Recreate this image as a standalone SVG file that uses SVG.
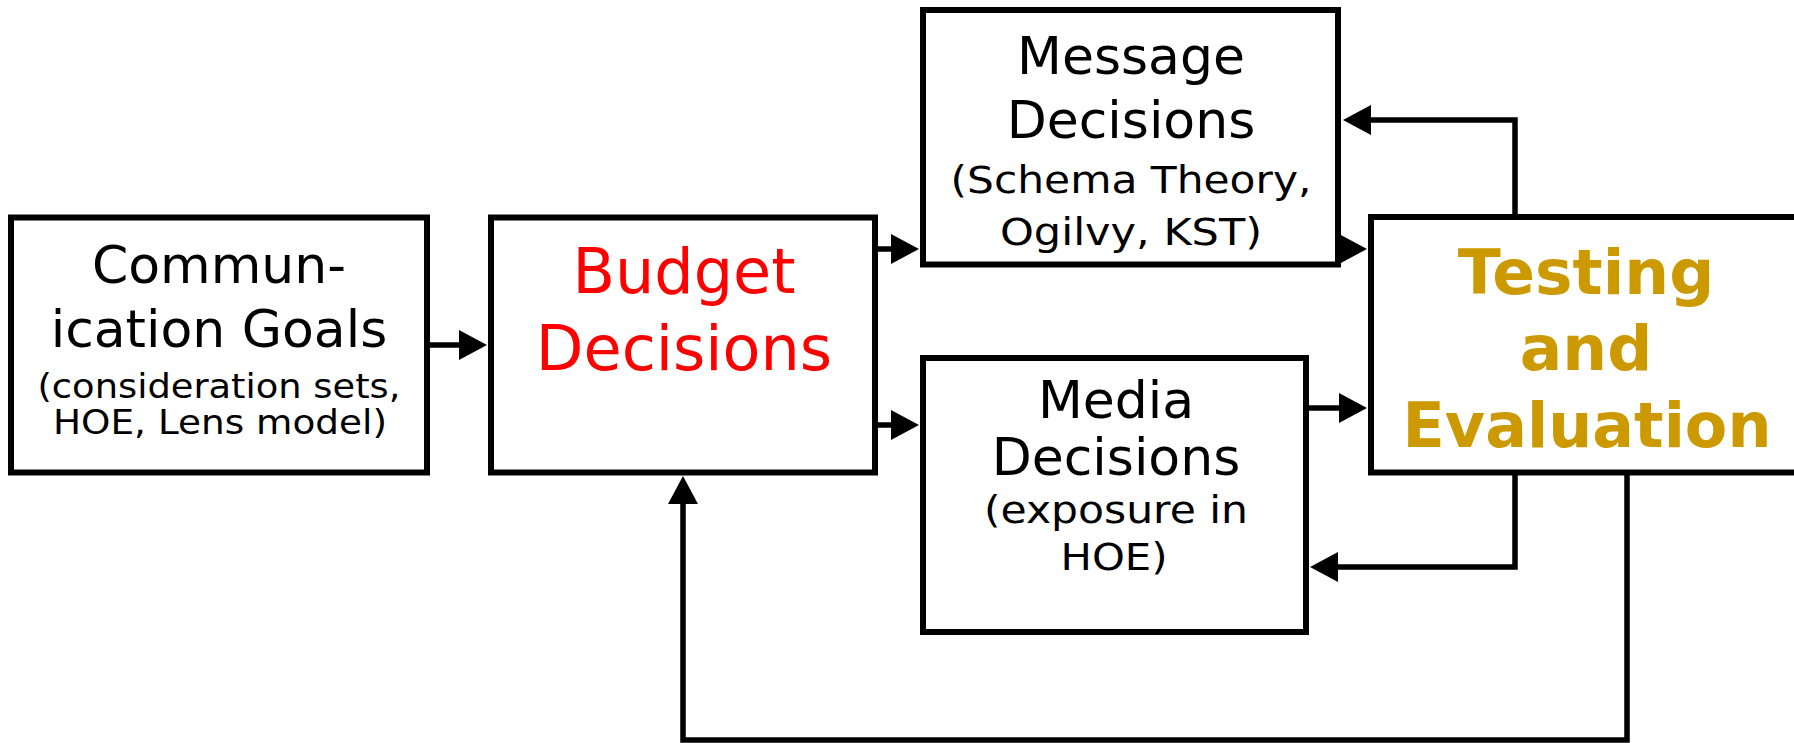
<svg xmlns="http://www.w3.org/2000/svg" width="1794" height="743" viewBox="0 0 1794 743">
  <style>
    .box { fill: #ffffff; stroke: #000000; stroke-width: 6; }
    .link { fill: none; stroke: #000000; stroke-width: 5.5; stroke-linejoin: miter; }
    .t { font-family: "DejaVu Sans", Verdana, sans-serif; text-anchor: middle; fill: #000000; }
    .big { font-size: 52px; }
    .small { font-size: 37px; }
    .note { font-size: 34px; }
    .budget { font-size: 62px; fill: #ff0000; }
    .test { font-size: 63px; font-weight: bold; fill: #cc9900; }
  </style>
  <defs>
    <marker id="arrow" markerUnits="userSpaceOnUse" markerWidth="32" markerHeight="32" refX="1" refY="15" orient="auto" overflow="visible">
      <path d="M0,0 L28,15 L0,30 Z" fill="#000000"/>
    </marker>
  </defs>

  <rect width="1794" height="743" fill="#ffffff"/>

  <!-- connectors -->
  <g id="connectors">
    <path class="link" d="M427,345 H460" marker-end="url(#arrow)"/>
    <path class="link" d="M875,249 H892" marker-end="url(#arrow)"/>
    <path class="link" d="M875,425 H892" marker-end="url(#arrow)"/>
    <path class="link" d="M1515,217 V120 H1370" marker-end="url(#arrow)"/>
    <path class="link" d="M1336,249 H1340" marker-end="url(#arrow)"/>
    <path class="link" d="M1306,408 H1340" marker-end="url(#arrow)"/>
    <path class="link" d="M1515,472 V567 H1337" marker-end="url(#arrow)"/>
    <path class="link" d="M1627,472 V740 H683 V503" marker-end="url(#arrow)"/>
  </g>

  <g id="communication-goals">
    <rect class="box" x="11" y="217.5" width="416" height="255"/>
    <text class="t big" x="219" y="283">Commun-</text>
    <text class="t big" x="219" y="347">ication Goals</text>
    <text class="t note" x="219" y="398" textLength="363" lengthAdjust="spacingAndGlyphs">(consideration sets,</text>
    <text class="t note" x="220" y="434" textLength="334" lengthAdjust="spacingAndGlyphs">HOE, Lens model)</text>
  </g>

  <g id="budget-decisions">
    <rect class="box" x="491" y="217.5" width="384" height="255"/>
    <text class="t budget" x="684" y="293">Budget</text>
    <text class="t budget" x="684" y="370">Decisions</text>
  </g>

  <g id="message-decisions">
    <rect class="box" x="923" y="10" width="415" height="254.5"/>
    <text class="t big" x="1131" y="74">Message</text>
    <text class="t big" x="1131" y="138">Decisions</text>
    <text class="t small" x="1131" y="193" textLength="361" lengthAdjust="spacingAndGlyphs">(Schema Theory,</text>
    <text class="t small" x="1131" y="245" textLength="262" lengthAdjust="spacingAndGlyphs">Ogilvy, KST)</text>
  </g>

  <g id="media-decisions">
    <rect class="box" x="923" y="358" width="383" height="274"/>
    <text class="t big" x="1116" y="418">Media</text>
    <text class="t big" x="1116" y="475">Decisions</text>
    <text class="t small" x="1116" y="523" textLength="264" lengthAdjust="spacingAndGlyphs">(exposure in</text>
    <text class="t small" x="1114" y="570" textLength="107" lengthAdjust="spacingAndGlyphs">HOE)</text>
  </g>

  <g id="testing-evaluation">
    <rect class="box" x="1371" y="217" width="460" height="255.5"/>
    <text class="t test" x="1586" y="294">Testing</text>
    <text class="t test" x="1586" y="370">and</text>
    <text class="t test" x="1587" y="447" textLength="369" lengthAdjust="spacingAndGlyphs">Evaluation</text>
  </g>
</svg>
